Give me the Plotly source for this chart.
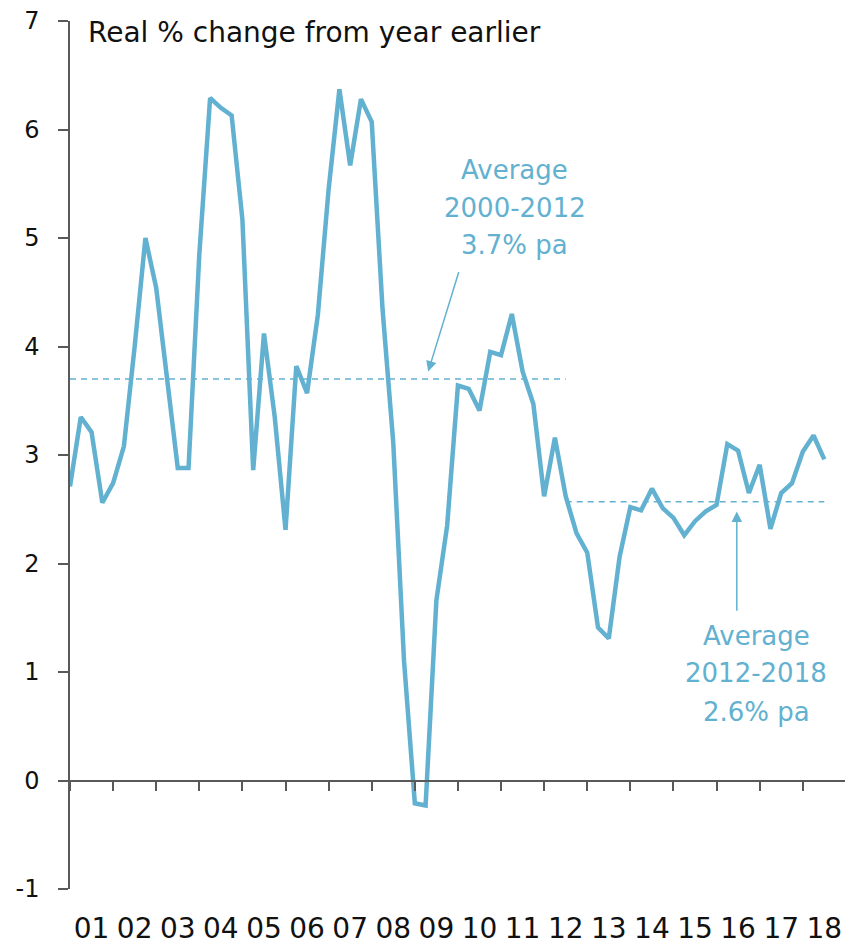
import plotly.graph_objects as go

# Quarterly data, starting 2001 Q1 (plotted at year start + quarter offset)
start_year = 2001
values = [2.71, 3.35, 3.21, 2.56, 2.74, 3.08, 4.00, 5.00, 4.54, 3.75,
          2.88, 2.88, 4.85, 6.29, 6.20, 6.13, 5.17, 2.86, 4.12, 3.35,
          2.31, 3.82, 3.57, 4.29, 5.45, 6.37, 5.67, 6.28, 6.07, 4.35,
          3.11, 1.10, -0.21, -0.23, 1.66, 2.35, 3.64, 3.61, 3.41, 3.95,
          3.92, 4.30, 3.77, 3.47, 2.62, 3.16, 2.62, 2.28, 2.10, 1.41,
          1.31, 2.06, 2.52, 2.49, 2.69, 2.51, 2.42, 2.26, 2.39, 2.48,
          2.54, 3.10, 3.04, 2.65, 2.91, 2.32, 2.65, 2.74, 3.03, 3.18,
          2.96]
x_vals = [start_year + 0.25 * i for i in range(len(values))]

avg1_value = 3.70   # 2000-2012
avg1_span = [2001.0, 2012.5]
avg2_value = 2.57   # 2012-2018
avg2_span = [2012.5, 2018.5]

year_ticks = list(range(2001, 2019))
tick_labels = ["01", "02", "03", "04", "05", "06", "07", "08", "09", "10",
               "11", "12", "13", "14", "15", "16", "17", "18"]
label_pos = [y + 0.5 for y in year_ticks]

y_ticks = [-1, 0, 1, 2, 3, 4, 5, 6, 7]
y_tick_text = ["-1", "0", "1", "2", "3", "4", "5", "6", "7"]

BLUE = "#62B1D0"
AXIS = "#595959"
FONT = "DejaVu Sans"
x_range = [2001.0, 2018.98]

fig = go.Figure()

fig.add_trace(go.Scatter(x=avg1_span, y=[avg1_value, avg1_value], mode="lines",
                         line=dict(color=BLUE, width=1.5, dash="6px,5px"),
                         hoverinfo="skip", showlegend=False))
fig.add_trace(go.Scatter(x=avg2_span, y=[avg2_value, avg2_value], mode="lines",
                         line=dict(color=BLUE, width=1.5, dash="6px,5px"),
                         hoverinfo="skip", showlegend=False))
fig.add_trace(go.Scatter(x=x_vals, y=values, mode="lines",
                         line=dict(color=BLUE, width=4.5),
                         showlegend=False))

# Annotation text blocks (one line per annotation for spacing control)
block1 = ["Average", "2000-2012", "3.7% pa"]
block1_y = [5.63, 5.28, 4.94]
block2 = ["Average", "2012-2018", "2.6% pa"]
block2_y = [1.33, 0.99, 0.63]
for txt, yy in zip(block1, block1_y):
    fig.add_annotation(x=2011.32, y=yy, text=txt, showarrow=False,
                       font=dict(family=FONT, size=26, color=BLUE),
                       xanchor="center", yanchor="middle")
for txt, yy in zip(block2, block2_y):
    fig.add_annotation(x=2016.92, y=yy, text=txt, showarrow=False,
                       font=dict(family=FONT, size=26, color=BLUE),
                       xanchor="center", yanchor="middle")

# Arrows
fig.add_annotation(x=2009.31, y=3.77, ax=2010.03, ay=4.70, axref="x", ayref="y",
                   text="", showarrow=True, arrowhead=2, arrowsize=1.4,
                   arrowwidth=1.5, arrowcolor=BLUE)
fig.add_annotation(x=2016.47, y=2.48, ax=2016.47, ay=1.55, axref="x", ayref="y",
                   text="", showarrow=True, arrowhead=2, arrowsize=1.4,
                   arrowwidth=1.5, arrowcolor=BLUE)

# Axis title text at top-left
fig.add_annotation(x=2001.36, y=6.89, text="Real % change from year earlier",
                   showarrow=False, xanchor="left", yanchor="middle",
                   font=dict(family=FONT, size=28, color="#111111"))

fig.update_layout(
    width=845, height=945,
    margin=dict(l=70, r=0, t=21, b=56, autoexpand=False),
    paper_bgcolor="white", plot_bgcolor="white",
    font=dict(family=FONT, color="#111111"),
    xaxis=dict(range=x_range, anchor="free", position=0.125, automargin=False,
               showline=True, linecolor=AXIS, linewidth=1.5,
               tickmode="array", tickvals=year_ticks, showticklabels=False,
               ticks="outside", ticklen=10, tickwidth=1.5, tickcolor=AXIS,
               showgrid=False, zeroline=False),
    xaxis2=dict(range=x_range, overlaying="x", anchor="y", side="bottom",
                automargin=False, ticklabeloverflow="allow",
                showline=False, tickmode="array", tickvals=label_pos,
                ticktext=tick_labels, ticks="", showgrid=False, zeroline=False,
                ticklabelstandoff=20,
                tickfont=dict(family=FONT, size=28, color="#111111")),
    yaxis=dict(range=[-1, 7], tickmode="array", tickvals=y_ticks,
               ticktext=y_tick_text, automargin=False, ticklabeloverflow="allow",
               showline=True, linecolor=AXIS, linewidth=1.5,
               ticks="outside", ticklen=10, tickwidth=1.5, tickcolor=AXIS,
               showgrid=False, zeroline=False, ticklabelstandoff=14,
               tickfont=dict(family=FONT, size=24, color="#111111")),
)

# dummy trace to activate xaxis2
fig.add_trace(go.Scatter(x=[x_range[0]], y=[None], xaxis="x2", mode="lines",
                         showlegend=False, hoverinfo="skip"))

# remove the default page margin so the figure fills the window exactly
fig.write_html("out.html",
               config={"displayModeBar": False},
               post_script="document.body.style.margin='0';"
                           "document.body.style.overflow='hidden';")
